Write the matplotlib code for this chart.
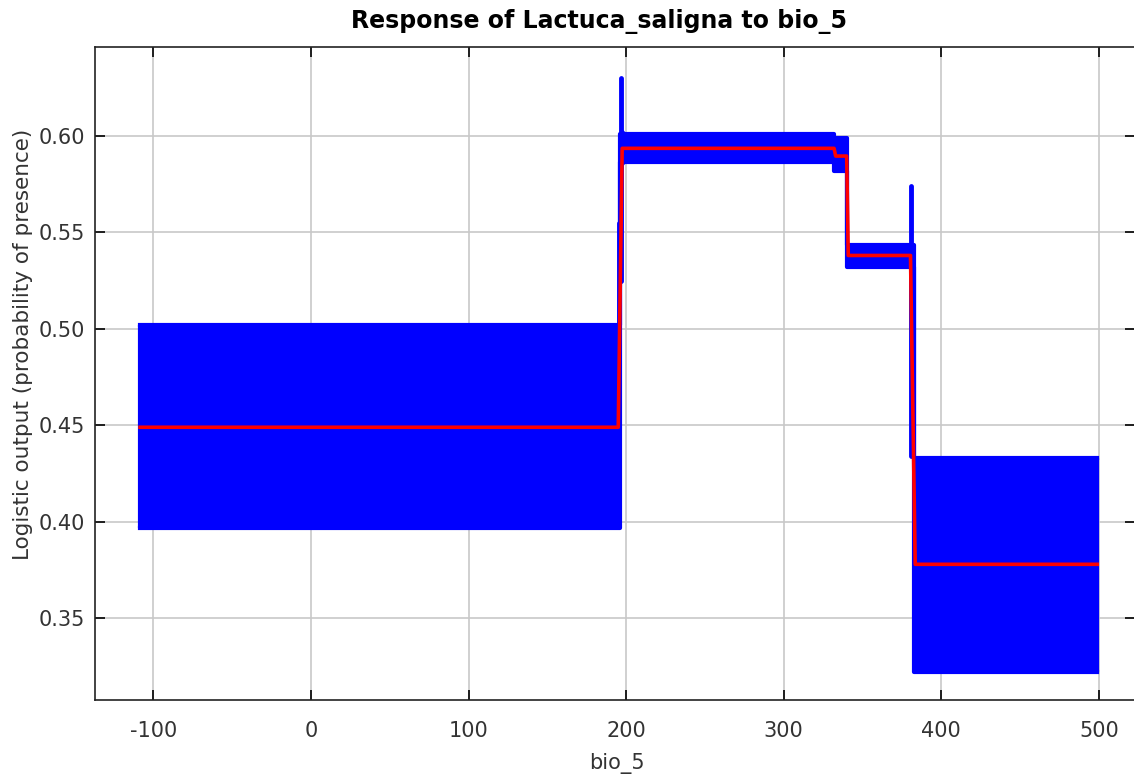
import numpy as np
import matplotlib
matplotlib.use('Agg')
import matplotlib.pyplot as plt

plt.rcParams['font.family'] = ['DejaVu Sans']

''' data read off the picture '''
# blue band (mean +/- sd), step segments: start of each segment, last value = end
band_x = [-108.5, 196.0, 197.5, 332.0, 340.5, 382.5, 499.0]
band_hi = [0.502, 0.601, 0.601, 0.599, 0.5435, 0.433]
band_lo = [0.397, 0.5865, 0.5865, 0.582, 0.532, 0.322]

# thin spikes at the transitions
spike_x = [195.3, 196.8, 197.2, 380.8, 382.0]
spike_lo = [0.501, 0.525, 0.586, 0.434, 0.434]
spike_hi = [0.555, 0.630, 0.602, 0.574, 0.488]

# red mean curve
mean_x = [-108.5, 195.0, 197.5, 332.0, 333.0, 340.0, 341.0, 380.5, 383.5, 499.0]
mean_y = [0.449, 0.449, 0.5935, 0.5935, 0.5895, 0.5895, 0.538, 0.538, 0.378, 0.378]

xticks = [-100, 0, 100, 200, 300, 400, 500]
yticks = [0.35, 0.40, 0.45, 0.50, 0.55, 0.60]

fig = plt.figure(figsize=(11.34, 7.76), dpi=100)
ax = fig.add_axes([95 / 1134, 1 - 700 / 776, 1040 / 1134, 653 / 776])

ax.grid(True, color='#c8c8c8', linewidth=1.2, zorder=0)
ax.set_axisbelow(True)

# band
bx = np.array(band_x)
hi = np.append(band_hi, band_hi[-1])
lo = np.append(band_lo, band_lo[-1])
ax.fill_between(bx, lo, hi, step='post', color='blue', linewidth=0, zorder=2)
ax.plot(bx, hi, drawstyle='steps-post', color='blue', lw=3, solid_joinstyle='round', zorder=2)
ax.plot(bx, lo, drawstyle='steps-post', color='blue', lw=3, solid_joinstyle='round', zorder=2)
ax.vlines(bx[[0, -1]], lo[[0, -1]], hi[[0, -1]], colors='blue', lw=3, zorder=2)
ax.vlines(spike_x, spike_lo, spike_hi, colors='blue', lw=3.5, capstyle='round', zorder=2)

# mean
ax.plot(mean_x, mean_y, color='#ff0000', lw=2.6, zorder=3)

ax.set_xlim(-137.1, 523.0)
ax.set_ylim(0.3077, 0.646)
ax.set_xticks(xticks)
ax.set_xticklabels([str(t) for t in xticks])
ax.set_yticks(yticks)
ax.set_yticklabels(['%.2f' % t for t in yticks])

ax.tick_params(direction='in', length=7, width=1.2, top=True, right=True,
               labelsize=15, labelcolor='#333333', color='black')
ax.tick_params(axis='x', pad=15)
ax.tick_params(axis='y', pad=7)
for s in ax.spines.values():
    s.set_linewidth(1.2)
    s.set_color('#222222')

fig.text(599 / 1134, 1 - 22 / 776, 'Response of Lactuca_saligna to bio_5',
         ha='center', va='center', fontsize=17, fontweight='bold')
fig.text(617 / 1134, 1 - 763 / 776, 'bio_5', ha='center', va='center',
         fontsize=15, color='#333333')
fig.text(23 / 1134, 1 - 344 / 776, 'Logistic output (probability of presence)',
         ha='center', va='center', rotation=90, fontsize=15.5, color='#333333')

fig.savefig('out.png', dpi=100)
